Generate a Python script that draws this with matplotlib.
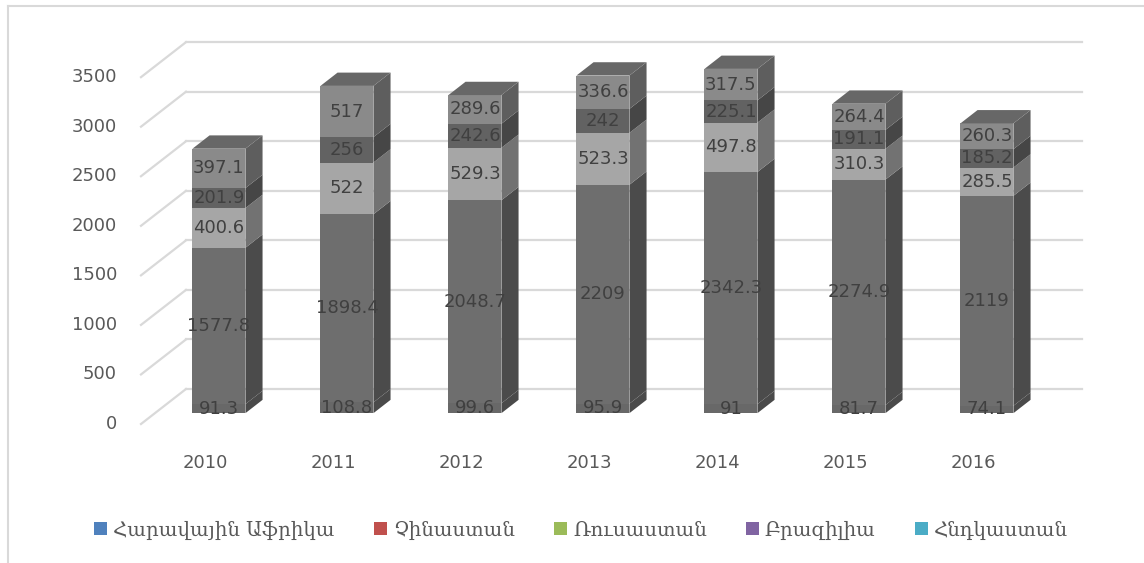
import numpy as np
import matplotlib
matplotlib.use("Agg")
from matplotlib import pyplot as plt
from matplotlib.patches import Polygon, Patch
from matplotlib.lines import Line2D

years = ['2010', '2011', '2012', '2013', '2014', '2015', '2016']
series_names = ['Հարավային Աֆրիկա', 'Չինաստան', 'Ռուսաստան', 'Բրազիլիա', 'Հնդկաստան']
south_africa = [91.3, 108.8, 99.6, 95.9, 91, 81.7, 74.1]
china = [1577.8, 1898.4, 2048.7, 2209, 2342.3, 2274.9, 2119]
russia = [400.6, 522, 529.3, 523.3, 497.8, 310.3, 285.5]
brazil = [201.9, 256, 242.6, 242, 225.1, 191.1, 185.2]
india = [397.1, 517, 289.6, 336.6, 317.5, 264.4, 260.3]
yticks = [0, 500, 1000, 1500, 2000, 2500, 3000, 3500]

legend_colors = ['#4f81bd', '#c0504d', '#9bbb59', '#8064a2', '#4bacc6']
front_cols = ['#686868', '#6e6e6e', '#a6a6a6', '#626262', '#8a8a8a']
side_cols = ['#4a4a4a', '#4b4b4b', '#727272', '#464646', '#5e5e5e']
top_col = '#676767'

# pixel -> data mapping (front plane)
W, H = 1144, 563
x_px0, x_step = 205.0, 128.0
y_px0, y_scale = 424.0, 0.0991

fig = plt.figure(figsize=(W / 100, H / 100), dpi=100)
ax = fig.add_axes([0, 0, 1, 1])
ax.set_xlim((0 - x_px0) / x_step, (W - x_px0) / x_step)
ax.set_ylim((y_px0 - H) / y_scale, y_px0 / y_scale)
ax.axis('off')

# depth of the plot box
back_dx = 45 / x_step
back_dy = 35 / y_scale
x_left, x_right = -0.5, 6.5

grid_c = '#d9d9d9'
for v in yticks:
    ax.plot([x_left, x_left + back_dx], [v, v + back_dy], color=grid_c, lw=1.6, zorder=1)
    ax.plot([x_left + back_dx, x_right + back_dx], [v + back_dy, v + back_dy],
            color=grid_c, lw=1.6, zorder=1)
    ax.text(-0.6875, v, str(v), ha='right', va='center', fontsize=13, color='#595959')

# bars
f = 0.31
bx = f * back_dx
by = f * back_dy
bw = 53 / x_step
dd = 0.38
ddx = dd * back_dx
ddy = dd * back_dy

xs = np.arange(len(years))
data = [south_africa, china, russia, brazil, india]
bottom = np.zeros(len(years))
for k, vals in enumerate(data):
    vals = np.array(vals)
    ax.bar(xs + bx, vals, width=bw, bottom=bottom + by, color=front_cols[k],
           edgecolor='none', zorder=3)
    for i in range(len(years)):
        xr = xs[i] + bx + bw / 2
        y0 = bottom[i] + by
        y1 = y0 + vals[i]
        side = Polygon([[xr, y0], [xr + ddx, y0 + ddy], [xr + ddx, y1 + ddy], [xr, y1]],
                       closed=True, facecolor=side_cols[k], edgecolor='none', zorder=3)
        ax.add_patch(side)
        ax.text(xs[i] + bx, y0 + vals[i] / 2, f'{vals[i]:g}', ha='center', va='center',
                fontsize=13, color='#404040', zorder=5)
    bottom = bottom + vals

# top faces
for i in range(len(years)):
    xl = xs[i] + bx - bw / 2
    xr = xs[i] + bx + bw / 2
    yt = bottom[i] + by
    top = Polygon([[xl, yt], [xr, yt], [xr + ddx, yt + ddy], [xl + ddx, yt + ddy]],
                  closed=True, facecolor=top_col, edgecolor='none', zorder=3)
    ax.add_patch(top)

# category labels
for i, yr in enumerate(years):
    ax.text(xs[i], (y_px0 - 463) / y_scale, yr, ha='center', va='center',
            fontsize=13, color='#595959')

handles = [Patch(facecolor=c, edgecolor='none') for c in legend_colors]
fig.legend(handles, series_names, loc='center', bbox_to_anchor=(0.508, (H - 530) / H),
           ncol=5, frameon=False, handlelength=0.65, handleheight=0.65,
           handletextpad=0.3, columnspacing=2.0,
           prop={'family': ['DejaVu Serif', 'DejaVu Sans'], 'size': 14.2},
           labelcolor='#595959')

# chart border (top and left only visible)
fig.add_artist(Line2D([8 / W, 1], [1 - 6 / H, 1 - 6 / H], color='#d9d9d9', lw=1.5))
fig.add_artist(Line2D([8 / W, 8 / W], [0, 1 - 6 / H], color='#d9d9d9', lw=1.5))

fig.savefig('out.png', dpi=100)
